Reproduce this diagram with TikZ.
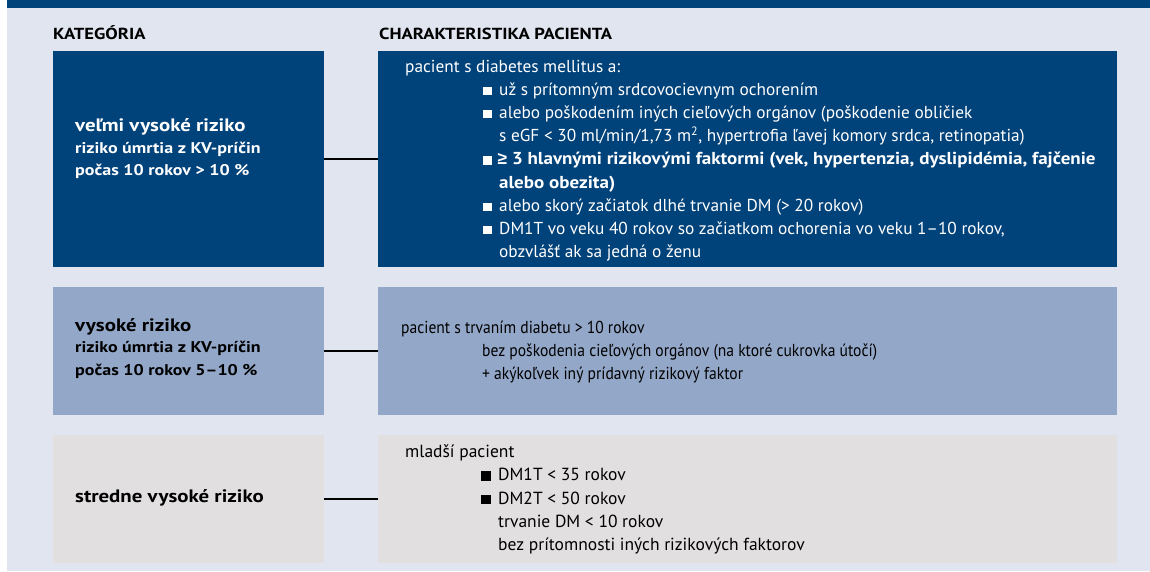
\documentclass[tikz,border=0pt]{standalone}
\usepackage{fontspec}
\setmainfont{PT Sans}
\newfontfamily\condfont[FakeStretch=0.9]{PT Sans}
\newfontfamily\wbold[FakeStretch=1.16]{PT Sans}
\newfontfamily\mbold[FakeStretch=1.10]{PT Sans}
\newfontfamily\gefont{Liberation Sans}
\usetikzlibrary{positioning}
\definecolor{bgc}{HTML}{E1E5F0}
\definecolor{darkb}{HTML}{00427A}
\definecolor{midb}{HTML}{93A7C8}
\definecolor{greyb}{HTML}{E1DFE0}
\tikzset{
  box/.style={inner sep=0pt, outer sep=0pt, anchor=north west},
  txt/.style={inner sep=0pt, anchor=base west, font=\fontsize{17.3}{20}\selectfont},
  wtxt/.style={txt, text=white},
  ctxt/.style={txt, font=\fontsize{17.3}{20}\condfont},
  gtxt/.style={txt, font=\fontsize{17.5}{20}\selectfont},
  btxt/.style={inner sep=0pt, anchor=base west, text=white, font=\fontsize{17.3}{20}\mbold\bfseries},
  ltitle/.style={inner sep=0pt, anchor=base west, font=\fontsize{18}{20}\wbold\bfseries},
  lsub/.style={inner sep=0pt, anchor=base west, font=\fontsize{15.5}{18}\wbold\bfseries},
  head/.style={inner sep=0pt, anchor=base west, font=\fontsize{16}{18}\wbold\bfseries},
  conn/.style={line width=2pt, black},
}
\newcommand{\wbul}{\makebox[16pt][l]{\textcolor{white}{\rule{8.5pt}{8.5pt}}}}
\newcommand{\bwbul}{\makebox[14.5pt][l]{\textcolor{white}{\rule{8.5pt}{8.5pt}}}}
\newcommand{\kbul}{\makebox[17pt][l]{\rule{9.5pt}{9.5pt}}}
\begin{document}
\begin{tikzpicture}[x=1pt,y=-1pt]
\useasboundingbox (0,0) rectangle (1150,571);
\fill[white] (0,0) rectangle (1150,571);
\fill[bgc] (7,0) rectangle (1150,571);
\fill[darkb] (7,0) rectangle (1150,8);
% headers
\node[head] (h1) at (53,39) {KATEGÓRIA};
\node[head] (h2) at (379,39) {CHARAKTERISTIKA PACIENTA};
% boxes
\node[box, fill=darkb, minimum width=271pt, minimum height=216pt] (k1) at (53,51) {};
\node[box, fill=darkb, minimum width=739pt, minimum height=216pt] (c1) at (378,51) {};
\node[box, fill=midb, minimum width=271pt, minimum height=128pt] (k2) at (53,287) {};
\node[box, fill=midb, minimum width=739pt, minimum height=128pt] (c2) at (378,287) {};
\node[box, fill=greyb, minimum width=271pt, minimum height=128pt] (k3) at (53,435) {};
\node[box, fill=greyb, minimum width=739pt, minimum height=128pt] (c3) at (378,435) {};
% connectors
\draw[conn] (k1.east) -- (c1.west);
\draw[conn] (k2.east) -- (c2.west);
\draw[conn] (k3.east) -- (c3.west);
% left texts
\node[ltitle, text=white] (t1a) at (75,131) {veľmi vysoké riziko};
\node[lsub, text=white] (t1b) at (75,153) {riziko úmrtia z KV-príčin};
\node[lsub, text=white] (t1c) at (75,175) {počas 10 rokov > 10 \%};
\node[ltitle] (t2a) at (75,331) {vysoké riziko};
\node[lsub] (t2b) at (75,352) {riziko úmrtia z KV-príčin};
\node[lsub] (t2c) at (75,375) {počas 10 rokov 5–10 \%};
\node[ltitle] (t3a) at (75,502) {stredne vysoké riziko};
% right box 1
\node[wtxt] (r1a) at (405,72) {pacient s diabetes mellitus a:};
\node[wtxt] (r1b) at (483,95.2) {\wbul už s prítomným srdcovocievnym ochorením};
\node[wtxt] (r1c) at (483,118.4) {\wbul alebo poškodením iných cieľových orgánov (poškodenie obličiek};
\node[wtxt] (r1d) at (499,141.6) {s eGF < 30 ml/min/1,73 m\textsuperscript{2}, hypertrofia ľavej komory srdca, retinopatia)};
\node[btxt] (r1e) at (483,164.8) {\bwbul {\gefont\bfseries ≥} 3 hlavnými rizikovými faktormi (vek, hypertenzia, dyslipidémia, fajčenie};
\node[btxt] (r1f) at (499,188) {alebo obezita)};
\node[wtxt] (r1g) at (483,211.2) {\wbul alebo skorý začiatok dlhé trvanie DM (> 20 rokov)};
\node[wtxt] (r1h) at (483,234.4) {\wbul DM1T vo veku 40 rokov so začiatkom ochorenia vo veku 1–10 rokov,};
\node[wtxt] (r1i) at (499,257.6) {obzvlášť ak sa jedná o ženu};
% right box 2
\node[ctxt] (r2a) at (401,333) {pacient s trvaním diabetu > 10 rokov};
\node[ctxt] (r2b) at (482,356) {bez poškodenia cieľových orgánov (na ktoré cukrovka útočí)};
\node[ctxt] (r2c) at (482,379) {+ akýkoľvek iný prídavný rizikový faktor};
% right box 3
\node[gtxt] (r3a) at (405,457) {mladší pacient};
\node[gtxt] (r3b) at (481,480.5) {\kbul DM1T < 35 rokov};
\node[gtxt] (r3c) at (481,504) {\kbul DM2T < 50 rokov};
\node[gtxt] (r3d) at (498,527) {trvanie DM < 10 rokov};
\node[gtxt] (r3e) at (498,550) {bez prítomnosti iných rizikových faktorov};
\end{tikzpicture}
\end{document}
